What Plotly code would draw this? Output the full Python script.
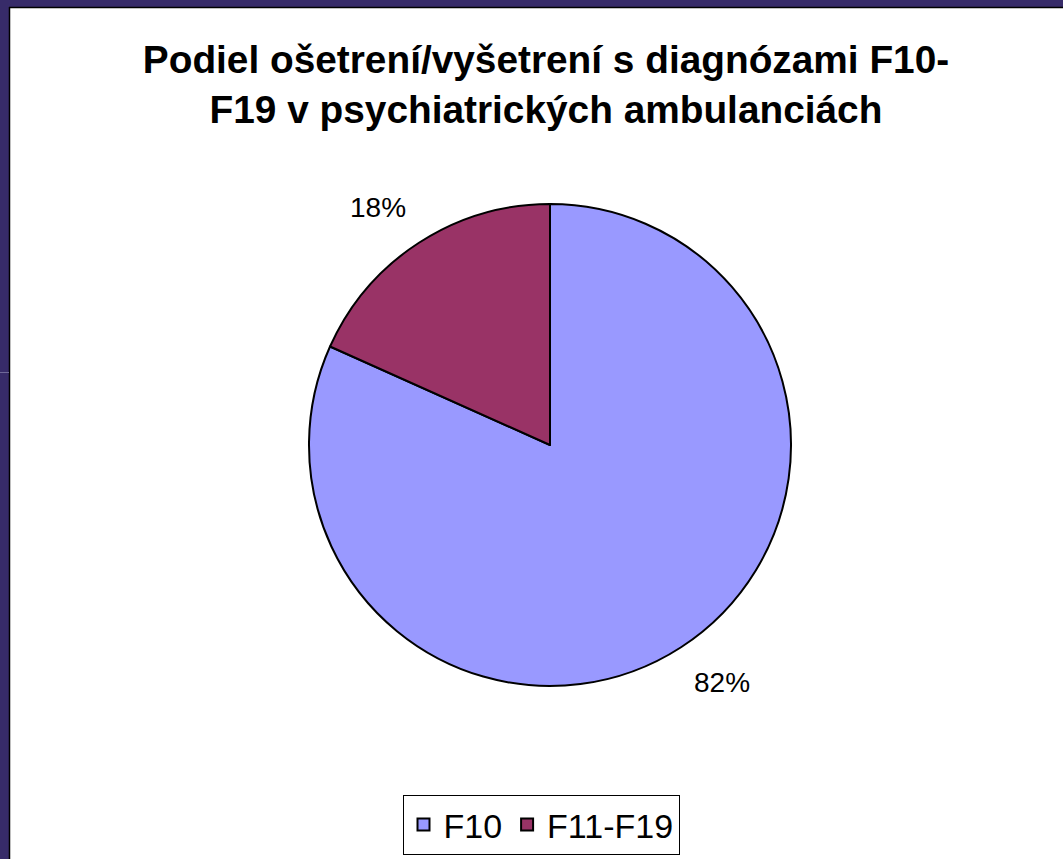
import math
import plotly.graph_objects as go

labels = ["F10", "F11-F19"]
values = [81.7, 18.3]
colors = ["#9999FF", "#993366"]
title_text = "Podiel ošetrení/vyšetrení s diagnózami F10-<br>F19 v psychiatrických ambulanciách"

W, H = 1063, 859
cx, cy, r = 550, 445, 241
label_dist = 262  # px from pie centre to the nearest corner of each percentage label

fig = go.Figure()
fig.add_trace(go.Pie(
    labels=labels,
    values=values,
    sort=False,
    direction="clockwise",
    rotation=0,
    marker=dict(colors=colors, line=dict(color="black", width=2)),
    textinfo="none",
    domain=dict(x=[(cx - r) / W, (cx + r) / W], y=[1 - (cy + r) / H, 1 - (cy - r) / H]),
    showlegend=True,
    hoverinfo="label+percent",
))

total = sum(values)
annotations = []
cum = 0.0
for lab, v in zip(labels, values):
    mid = (cum + v / 2) / total * 2 * math.pi  # clockwise from top
    cum += v
    sx, sy = math.sin(mid), math.cos(mid)
    px = cx + label_dist * sx
    py = cy - label_dist * sy
    annotations.append(dict(
        x=px / W, y=1 - py / H, xref="paper", yref="paper",
        text=f"{round(v / total * 100)}%", showarrow=False,
        xanchor="left" if sx >= 0 else "right",
        yanchor="bottom" if sy >= 0 else "top",
        font=dict(size=28, color="black", family="Liberation Sans, Arial"),
    ))

navy = "#372B69"
shapes = [
    dict(type="rect", xref="paper", yref="paper", x0=0, x1=1, y0=1 - 7 / H, y1=1,
         fillcolor=navy, line=dict(width=0), layer="above"),
    dict(type="line", xref="paper", yref="paper", x0=9 / W, x1=1, y0=1 - 7.5 / H, y1=1 - 7.5 / H,
         line=dict(color="black", width=1.5), layer="above"),
    dict(type="rect", xref="paper", yref="paper", x0=0, x1=9 / W, y0=0, y1=1,
         fillcolor=navy, line=dict(width=0), layer="above"),
    dict(type="line", xref="paper", yref="paper", x0=9.5 / W, x1=9.5 / W, y0=0, y1=1 - 7 / H,
         line=dict(color="black", width=1.5), layer="above"),
    dict(type="line", xref="paper", yref="paper", x0=0, x1=9 / W, y0=1 - 372.5 / H, y1=1 - 372.5 / H,
         line=dict(color="#6F6898", width=1), layer="above"),
]

fig.update_layout(
    width=W, height=H,
    margin=dict(l=0, r=0, t=0, b=0),
    paper_bgcolor="white",
    plot_bgcolor="white",
    font=dict(family="Liberation Sans, Arial", color="black"),
    title=dict(
        text=title_text,
        x=546 / W, xanchor="center", xref="container",
        y=1 - 73 / H, yanchor="top", yref="container",
        font=dict(size=38.8, family="Liberation Sans, Arial", color="black", weight="bold"),
    ),
    legend=dict(
        orientation="h",
        x=541 / W, xanchor="center",
        y=1 - 795 / H, yanchor="top",
        bgcolor="white",
        bordercolor="black",
        borderwidth=1,
        font=dict(size=34, color="black", family="Liberation Sans, Arial"),
    ),
    shapes=shapes,
    annotations=annotations,
)

fig.write_html(
    "out.html",
    config={"displayModeBar": False},
    post_script="document.body.style.margin='0';document.body.style.overflow='hidden';",
)
